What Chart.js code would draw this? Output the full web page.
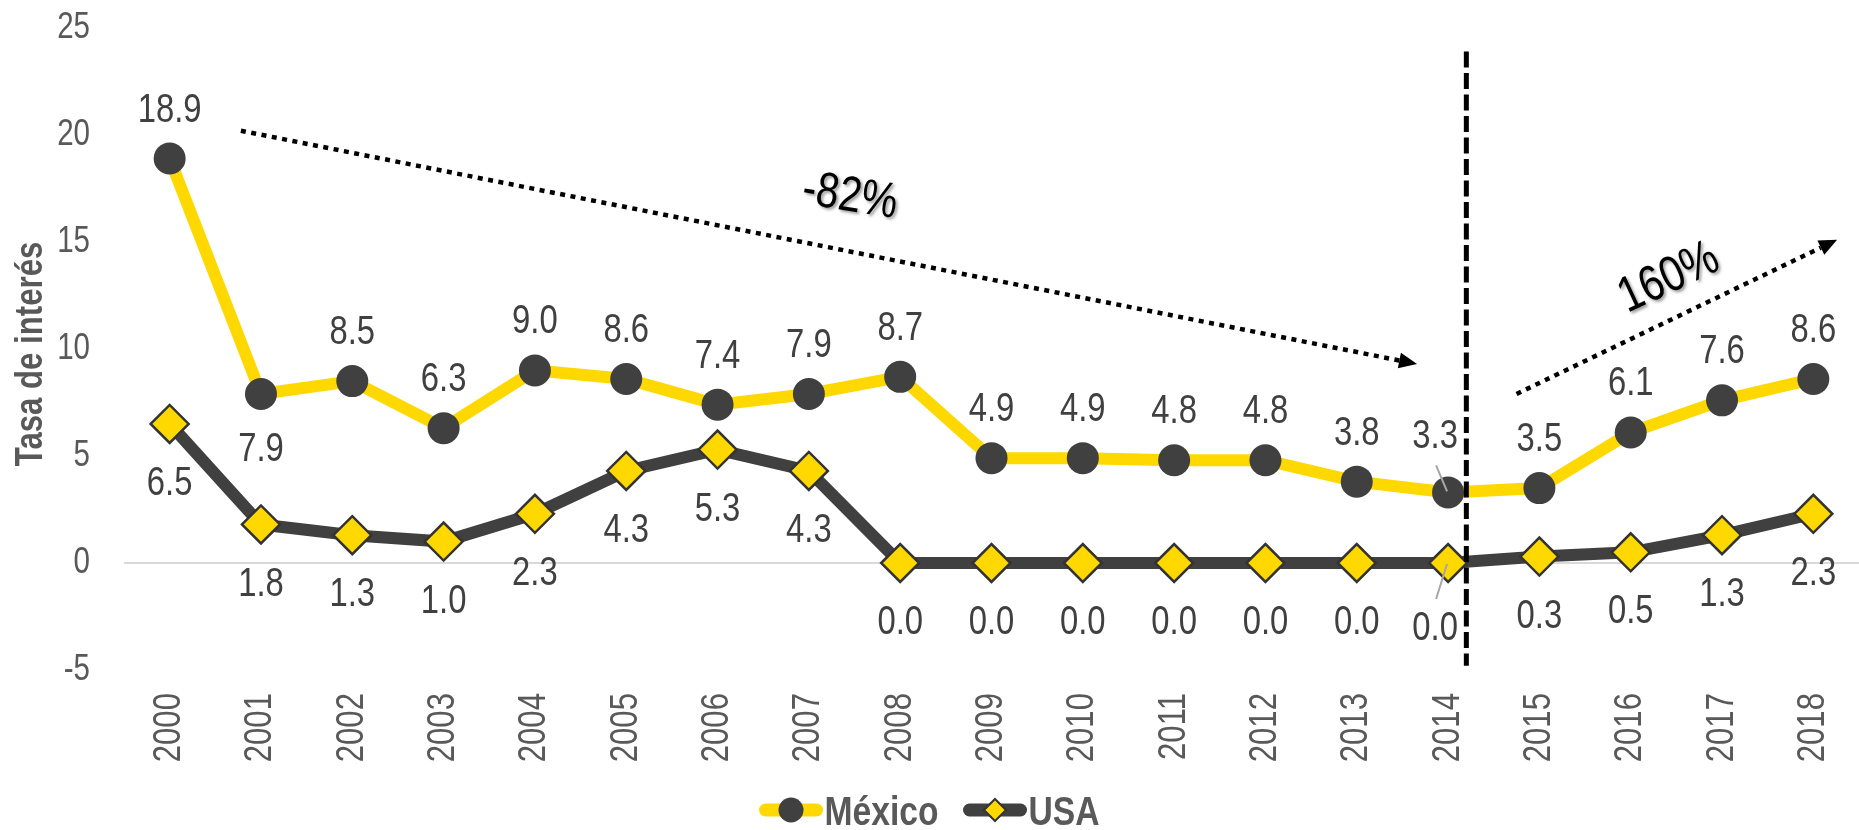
<!DOCTYPE html>
<html>
<head>
<meta charset="utf-8">
<script src="https://cdn.jsdelivr.net/npm/chart.js@4.4.1/dist/chart.umd.min.js"></script>
<style>
  html, body { margin: 0; padding: 0; background: #fff; }
  #wrap { width: 1859px; height: 830px; position: relative; }
</style>
</head>
<body>
<div id="wrap"><canvas id="rateChart"></canvas></div>
<script>
/* ── Data ─────────────────────────────────────────── */
const years = ["2000", "2001", "2002", "2003", "2004", "2005", "2006", "2007", "2008", "2009",
               "2010", "2011", "2012", "2013", "2014", "2015", "2016", "2017", "2018"];
const mexico = [18.9, 7.9, 8.5, 6.3, 9.0, 8.6, 7.4, 7.9, 8.7, 4.9, 4.9, 4.8, 4.8, 3.8, 3.3, 3.5, 6.1, 7.6, 8.6];
const usa = [6.5, 1.8, 1.3, 1.0, 2.3, 4.3, 5.3, 4.3, 0.0, 0.0, 0.0, 0.0, 0.0, 0.0, 0.0, 0.3, 0.5, 1.3, 2.3];
const yMin = -5, yMax = 25, yStep = 5;
const yTitle = "Tasa de interés";

/* ── Look ─────────────────────────────────────────── */
const YELLOW = "#FFD800";
const DARK = "#404040";
const GREY_TXT = "#595959";
const FONT = "'Liberation Sans', Arial, sans-serif";
const NARROW = 0.82; // no Arial Narrow installed, squeeze Liberation Sans instead

// annotations in data units (category index, value)
const trendArrows = [
    { from: [0.78, 20.2], to: [13.66, 9.3], text: "-82%", at: [7.45, 17.1], angle: 9 },
    { from: [14.75, 7.9], to: [18.26, 15.1], text: "160%", at: [16.42, 13.3], angle: -25 },
];
const splitAt = 14.2;

/* ── Helpers ──────────────────────────────────────── */
function narrowText(ctx, text, x, y, o) {
    ctx.save();
    ctx.translate(x, y);
    if (o.rotate) ctx.rotate(o.rotate);
    ctx.scale(NARROW, 1);
    ctx.font = o.font;
    ctx.fillStyle = o.color;
    ctx.textAlign = o.align || "center";
    ctx.textBaseline = o.baseline || "middle";
    if (o.shadow) {
        ctx.shadowColor = "rgba(0,0,0,0.4)";
        ctx.shadowBlur = 3;
        ctx.shadowOffsetX = 2;
        ctx.shadowOffsetY = 2;
    }
    ctx.fillText(text, 0, 0);
    ctx.restore();
}

/* ── Plugins ──────────────────────────────────────── */
const axisText = {
    id: "axisText",
    afterDraw(chart) {
        const { ctx, scales: { x, y } } = chart;
        y.ticks.forEach(t => {
            narrowText(ctx, String(t.value), 90, y.getPixelForValue(t.value),
                { font: `36px ${FONT}`, color: GREY_TXT, align: "right" });
        });
        x.ticks.forEach((t, i) => {
            narrowText(ctx, chart.data.labels[i], x.getPixelForTick(i), 693,
                { font: `38px ${FONT}`, color: GREY_TXT, align: "right", rotate: -Math.PI / 2 });
        });
        narrowText(ctx, yTitle, 42, 354,
            { font: `bold 38px ${FONT}`, color: GREY_TXT, baseline: "alphabetic", rotate: -Math.PI / 2 });
    }
};

const dataLabels = {
    id: "dataLabels",
    afterDatasetsDraw(chart) {
        const { ctx } = chart;
        chart.data.datasets.forEach((ds, i) => {
            const meta = chart.getDatasetMeta(i);
            meta.data.forEach((pt, j) => {
                let dx = 0, dy = i === 0 ? -48 : 60;
                if (i === 0 && j === 1) dy = 56;
                let leader = false;
                if (j === 14) { dx = -13; dy = i === 0 ? -55 : 66; leader = true; }
                const lx = pt.x + dx, ly = pt.y + dy;
                if (leader) {
                    ctx.save();
                    ctx.strokeStyle = "#a6a6a6";
                    ctx.lineWidth = 2;
                    ctx.beginPath();
                    const sy = i === 0 ? ly + 28 : ly - 30;
                    ctx.moveTo(lx + 1, sy);
                    ctx.lineTo(pt.x - 1, pt.y + (i === 0 ? -1 : 1));
                    ctx.stroke();
                    ctx.restore();
                }
                narrowText(ctx, ds.data[j].toFixed(1), lx, ly, { font: `40px ${FONT}`, color: DARK });
            });
        });
    }
};

const annotations = {
    id: "annotations",
    afterDatasetsDraw(chart) {
        const { ctx, scales: { x, y } } = chart;
        ctx.save();
        // vertical split line
        const sx = x.getPixelForValue(splitAt);
        ctx.strokeStyle = "#000";
        ctx.lineWidth = 5;
        ctx.setLineDash([16, 5.5]);
        ctx.beginPath();
        ctx.moveTo(sx, y.getPixelForValue(23.9));
        ctx.lineTo(sx, y.getPixelForValue(-4.8));
        ctx.stroke();

        // dotted trend arrows
        trendArrows.forEach(a => {
            const x1 = x.getPixelForValue(a.from[0]), y1 = y.getPixelForValue(a.from[1]);
            const x2 = x.getPixelForValue(a.to[0]), y2 = y.getPixelForValue(a.to[1]);
            const ang = Math.atan2(y2 - y1, x2 - x1);
            const head = 18;
            ctx.setLineDash([5, 5.5]);
            ctx.lineWidth = 4.5;
            ctx.lineCap = "butt";
            ctx.beginPath();
            ctx.moveTo(x1, y1);
            ctx.lineTo(x2 - Math.cos(ang) * head, y2 - Math.sin(ang) * head);
            ctx.stroke();
            ctx.setLineDash([]);
            ctx.fillStyle = "#000";
            ctx.beginPath();
            ctx.moveTo(x2, y2);
            ctx.lineTo(x2 - Math.cos(ang) * head - Math.sin(ang) * 8, y2 - Math.sin(ang) * head + Math.cos(ang) * 8);
            ctx.lineTo(x2 - Math.cos(ang) * head + Math.sin(ang) * 8, y2 - Math.sin(ang) * head - Math.cos(ang) * 8);
            ctx.closePath();
            ctx.fill();

            narrowText(ctx, a.text, x.getPixelForValue(a.at[0]), y.getPixelForValue(a.at[1]),
                { font: `50px ${FONT}`, color: "#000", rotate: a.angle * Math.PI / 180, shadow: true });
        });
        ctx.restore();
    }
};

const lineLegend = {
    id: "lineLegend",
    afterDraw(chart) {
        const { ctx } = chart;
        ctx.save();
        const font = `bold 41px ${FONT}`;
        ctx.font = font;
        const items = chart.data.datasets.map(ds => ({ ds, w: ctx.measureText(ds.label).width * NARROW }));
        const lineW = 63, gap = 25;
        const total = items.reduce((s, it) => s + lineW + 2 + it.w, 0) + gap * (items.length - 1);
        let cx = chart.width / 2 - total / 2;
        const cy = 810;
        items.forEach(({ ds, w }) => {
            ctx.strokeStyle = ds.borderColor;
            ctx.lineWidth = 13;
            ctx.lineCap = "round";
            ctx.beginPath();
            ctx.moveTo(cx + 6, cy);
            ctx.lineTo(cx + lineW - 6, cy);
            ctx.stroke();
            const mx = cx + lineW / 2;
            ctx.fillStyle = ds.pointBackgroundColor;
            ctx.beginPath();
            if (ds.pointStyle === "circle") {
                ctx.arc(mx, cy, 12.5, 0, Math.PI * 2);
                ctx.fill();
            } else {
                const r = 11;
                ctx.moveTo(mx - r, cy); ctx.lineTo(mx, cy - r);
                ctx.lineTo(mx + r, cy); ctx.lineTo(mx, cy + r);
                ctx.closePath();
                ctx.fill();
                ctx.lineWidth = 2;
                ctx.strokeStyle = ds.pointBorderColor;
                ctx.stroke();
            }
            narrowText(ctx, ds.label, cx + lineW + 2, cy + 15,
                { font, color: GREY_TXT, align: "left", baseline: "alphabetic" });
            cx += lineW + 2 + w + gap;
        });
        ctx.restore();
    }
};

/* ── Chart ────────────────────────────────────────── */
new Chart(document.getElementById("rateChart"), {
    type: "line",
    data: {
        labels: years,
        datasets: [
            {
                label: "México",
                data: mexico,
                borderColor: YELLOW,
                borderWidth: 12,
                pointStyle: "circle",
                pointRadius: 16,
                pointBackgroundColor: DARK,
                pointBorderWidth: 0,
                tension: 0,
            },
            {
                label: "USA",
                data: usa,
                borderColor: DARK,
                borderWidth: 12,
                pointStyle: "rectRot",
                pointRadius: 19,
                pointBackgroundColor: YELLOW,
                pointBorderColor: "#333",
                pointBorderWidth: 2.5,
                tension: 0,
            },
        ],
    },
    options: {
        responsive: true,
        maintainAspectRatio: false,
        animation: false,
        layout: { autoPadding: false, padding: { top: 28, bottom: 70, right: 0, left: 0 } },
        plugins: { legend: { display: false }, tooltip: { enabled: false } },
        scales: {
            x: {
                offset: true,
                grid: { display: false },
                border: { display: false },
                ticks: { display: false, autoSkip: false },
                afterFit: s => { s.height = 90; },
            },
            y: {
                min: yMin,
                max: yMax,
                border: { display: false },
                grid: {
                    drawTicks: false,
                    lineWidth: 2,
                    color: c => (c.tick && c.tick.value === 0 ? "#d9d9d9" : "rgba(0,0,0,0)"),
                },
                ticks: { display: false, stepSize: yStep },
                afterFit: s => { s.width = 124; },
            },
        },
    },
    plugins: [annotations, dataLabels, axisText, lineLegend],
});
</script>
</body>
</html>
